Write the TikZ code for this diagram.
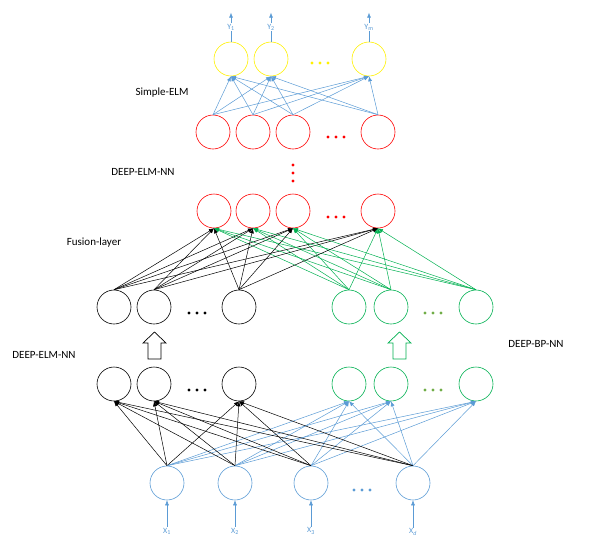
\documentclass[tikz,border=0pt]{standalone}
\usepackage{fontspec}
\setmainfont{Carlito}
\usetikzlibrary{
  arrows.meta, % for the small Latex arrow tips
}
\definecolor{elmblue}{RGB}{91,155,213}
\definecolor{bpgreen}{RGB}{0,176,80}
\definecolor{dotgreen}{RGB}{112,173,71}
\definecolor{outyellow}{RGB}{255,240,0}
\tikzset{
  neuron/.style={ % style for each neuron
    circle,draw, % drawn as a circle
    line width=0.6pt,
    inner sep=0pt, % no padding
    minimum size=34pt, % every neuron the same size
  },
  tag/.style={ % style for the layer names
    font=\fontsize{11}{13}\selectfont,
  },
  io/.style={ % style for the input/output names
    font=\fontsize{8}{9}\selectfont,
    text=elmblue,
    inner sep=1pt,
  },
  conn/.style={ % style for the connections
    -{Latex[length=5pt,width=4pt]}, % small filled arrow tip
    line width=0.5pt,
  },
  hollow/.style={ % style for the big open arrows
    line width=0.7pt,fill=white,
  },
}

\begin{document}
\begin{tikzpicture}[x=1pt,y=-1pt]
	\useasboundingbox (0,0) rectangle (595,542);

	% inputs
	\node[neuron,elmblue] (in1) at (167,483) {};
	\node[neuron,elmblue] (in2) at (235,483) {};
	\node[neuron,elmblue] (in3) at (311,483) {};
	\node[neuron,elmblue] (in4) at (413,483) {};

	% first hidden layers
	\node[neuron] (elmA1) at (114,384) {};
	\node[neuron] (elmA2) at (154,384) {};
	\node[neuron] (elmA3) at (239,384) {};
	\node[neuron,bpgreen] (bpA1) at (349,384) {};
	\node[neuron,bpgreen] (bpA2) at (391,384) {};
	\node[neuron,bpgreen] (bpA3) at (476,384) {};

	% last hidden layers
	\node[neuron] (elmB1) at (114,307) {};
	\node[neuron] (elmB2) at (154,307) {};
	\node[neuron] (elmB3) at (239,307) {};
	\node[neuron,bpgreen] (bpB1) at (349,307) {};
	\node[neuron,bpgreen] (bpB2) at (391,307) {};
	\node[neuron,bpgreen] (bpB3) at (476,307) {};

	% fusion layer
	\node[neuron,red] (fuse1) at (214,211) {};
	\node[neuron,red] (fuse2) at (253,211) {};
	\node[neuron,red] (fuse3) at (293,211) {};
	\node[neuron,red] (fuse4) at (378,211) {};

	% top hidden layer
	\node[neuron,red] (hid1) at (213,132) {};
	\node[neuron,red] (hid2) at (253,132) {};
	\node[neuron,red] (hid3) at (293,132) {};
	\node[neuron,red] (hid4) at (378,132) {};

	% outputs
	\node[neuron,outyellow] (out1) at (231,59) {};
	\node[neuron,outyellow] (out2) at (271,59) {};
	\node[neuron,outyellow] (out3) at (369,59) {};

	% layer names
	\node[tag] (simple) at (162,93) {Simple-ELM};
	\node[tag] (deepup) at (143,172) {DEEP-ELM-NN};
	\node[tag] (fusion) at (94,243) {Fusion-layer};
	\node[tag] (deepelm) at (44,355) {DEEP-ELM-NN};
	\node[tag] (deepbp) at (536,344) {DEEP-BP-NN};

	% input names
	\node[io] (x1) at (167,531) {X\textsubscript{1}};
	\node[io] (x2) at (235,531) {X\textsubscript{2}};
	\node[io] (x3) at (311,531) {X\textsubscript{3}};
	\node[io] (x4) at (413,532) {X\textsubscript{\itshape d}};
	\foreach \i in {1,...,4}
		\draw[conn,elmblue] (x\i.north) -- (in\i.south);

	% output names
	\foreach \i/\t in {1/1,2/2,3/m}
		\draw[conn,elmblue] (out\i.north) -- ++(0,-29)
			node[io,pos=0.5,fill=white] (y\i) {Y\textsubscript{\t}};

	% connections
	\foreach \i in {1,...,4}
		\foreach \j in {1,2,3} {
			\draw[conn] (in\i.north) -- (elmA\j.south);
			\draw[conn,elmblue] (in\i.north) -- (bpA\j.south);
		}
	\foreach \i in {1,2,3}
		\foreach \j in {1,...,4} {
			\draw[conn] (elmB\i.north) -- (fuse\j.south);
			\draw[conn,bpgreen] (bpB\i.north) -- (fuse\j.south);
		}
	\foreach \i in {1,...,4}
		\foreach \j in {1,2,3}
			\draw[conn,elmblue] (hid\i.north) -- (out\j.south);

	% big open arrows
	\draw[hollow] (154.5,359) -- ++(-6.5,0) -- ++(0,-16) -- ++(-5,0) -- ++(11.5,-11)
		-- ++(11.5,11) -- ++(-5,0) -- ++(0,16) -- cycle;
	\draw[hollow,draw=bpgreen] (399.5,359) -- ++(-6.5,0) -- ++(0,-16) -- ++(-5,0) -- ++(11.5,-11)
		-- ++(11.5,11) -- ++(-5,0) -- ++(0,16) -- cycle;

	% dots
	\foreach \d in {-8,0,8} {
		\fill[outyellow] (320+\d,63) circle (1.6);
		\fill[red] (336+\d,137) circle (1.6);
		\fill[red] (336+\d,217) circle (1.6);
		\fill[red] (293,173+\d) circle (1.6);
		\fill (197+\d,313) circle (1.6);
		\fill[dotgreen] (433+\d,313) circle (1.6);
		\fill (197+\d,390) circle (1.6);
		\fill[dotgreen] (433+\d,390) circle (1.6);
		\fill[elmblue] (362+\d,490) circle (1.6);
	}
\end{tikzpicture}
\end{document}
